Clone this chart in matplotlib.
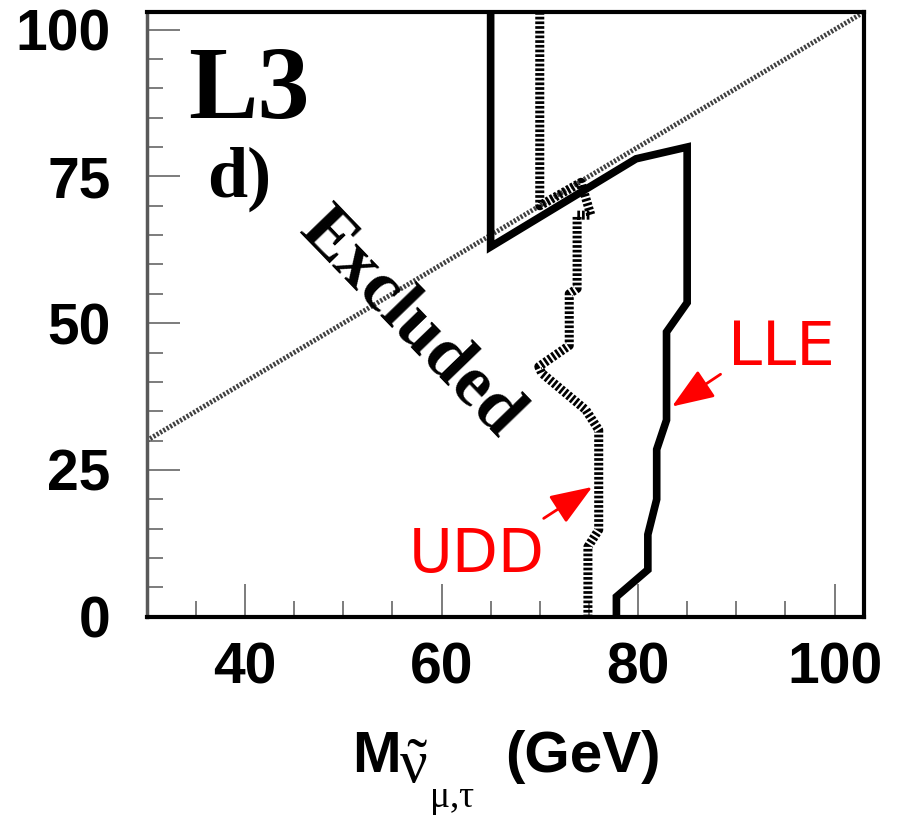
import matplotlib
matplotlib.use("Agg")
import matplotlib.pyplot as plt
from matplotlib.ticker import MultipleLocator

# ---- data ----
diag_x = [30, 103]
diag_y = [30, 103]

lle_x = [65, 65, 79.8, 85, 85, 82.9, 82.9, 81.9, 81.9, 81.0, 81.0, 77.8, 77.8]
lle_y = [103, 63, 78, 80, 53.5, 48.5, 33.5, 28.5, 20, 14, 8, 3.4, 0]

udd_x = [70, 70, 74.2, 75.2, 73.8, 73.8, 73.0, 73.0, 69.9, 70.2, 74.7, 76.0, 76.0, 74.9, 74.9]
udd_y = [103, 70, 74.0, 68.4, 68.4, 55.9, 55.0, 46.2, 42.6, 41.5, 35.2, 31.8, 14.8, 11.9, 0]

x_ticks = [40, 60, 80, 100]
y_ticks = [0, 25, 50, 75, 100]

plt.rcParams['mathtext.fontset'] = 'custom'
plt.rcParams['mathtext.rm'] = 'Liberation Serif'
plt.rcParams['mathtext.it'] = 'Liberation Serif:italic'
plt.rcParams['mathtext.bf'] = 'Liberation Sans:bold'

W, H = 899, 819
fig = plt.figure(figsize=(W / 100, H / 100), dpi=100)
ax = fig.add_axes([0.1632, 0.2470, 0.7979, 0.7383])
ax.set_xlim(30, 103)
ax.set_ylim(0, 103)

# diagonal kinematic line
ax.plot(diag_x, diag_y, color='0.25', lw=3.5, dashes=(0.45, 0.35), zorder=2)
# LLE solid
ax.plot(lle_x, lle_y, color='black', lw=5.5, solid_joinstyle='miter', zorder=3)
# UDD hatched
ax.plot(udd_x, udd_y, color='black', lw=6.5, dashes=(0.3, 0.22), zorder=3)

# spines
for s in ['top', 'right', 'bottom']:
    ax.spines[s].set_linewidth(3)
    ax.spines[s].set_color('black')
ax.spines['left'].set_linewidth(2.5)
ax.spines['left'].set_color('0.35')

ax.set_xticks(x_ticks)
ax.set_yticks(y_ticks)
ax.xaxis.set_minor_locator(MultipleLocator(5))
ax.yaxis.set_minor_locator(MultipleLocator(5))
ax.tick_params(which='both', direction='in', top=False, right=False, color='0.35', width=1.1)
ax.tick_params(which='major', length=24)
ax.tick_params(which='minor', length=11.5)
ax.tick_params(axis='x', which='major', pad=18)
ax.tick_params(axis='y', which='major', pad=26)
for lab in ax.get_xticklabels() + ax.get_yticklabels():
    lab.set_fontfamily('Liberation Sans')
    lab.set_fontweight('bold')
    lab.set_fontsize(41)

def fx(px):
    return px / W

def fy(py):
    return (H - py) / H

# x label built from pieces
fig.text(fx(352), fy(772), 'M', fontsize=42, fontfamily='Liberation Sans', fontweight='bold',
         ha='left', va='baseline')
fig.text(fx(399), fy(783), r'$\tilde{\mathrm{\nu}}$', fontsize=44, ha='left', va='baseline')
fig.text(fx(429), fy(807), r'$\mathrm{\mu{,}\tau}$', fontsize=27, ha='left', va='baseline')
fig.text(fx(505), fy(772), '(GeV)', fontsize=42, fontfamily='Liberation Sans', fontweight='bold',
         ha='left', va='baseline')

# texts
ax.text(34.2, 84.9, 'L3', fontsize=75, fontfamily='Liberation Serif', fontweight='bold', va='baseline')
ax.text(36.1, 71.5, 'd)', fontsize=52, fontfamily='Liberation Serif', fontweight='bold', va='baseline')
ax.text(56.9, 50.0, 'Excluded', fontsize=52, fontfamily='Liberation Serif', fontweight='bold',
        rotation=-46, ha='center', va='center', rotation_mode='anchor')

ax.text(89.2, 42.9, 'LLE', color='red', fontsize=44, fontfamily='DejaVu Sans', va='baseline')
ax.text(56.7, 7.6, 'UDD', color='red', fontsize=43, fontfamily='DejaVu Sans', va='baseline')

arrow = dict(arrowstyle='-|>,head_length=1.0,head_width=0.38', color='red', lw=2,
             mutation_scale=26, shrinkA=0, shrinkB=0)
ax.annotate('', xy=(83.46, 35.8), xytext=(88.4, 41.3), arrowprops=arrow)
ax.annotate('', xy=(75.34, 22.1), xytext=(70.4, 16.75), arrowprops=arrow)

fig.savefig('out.png', dpi=100)
